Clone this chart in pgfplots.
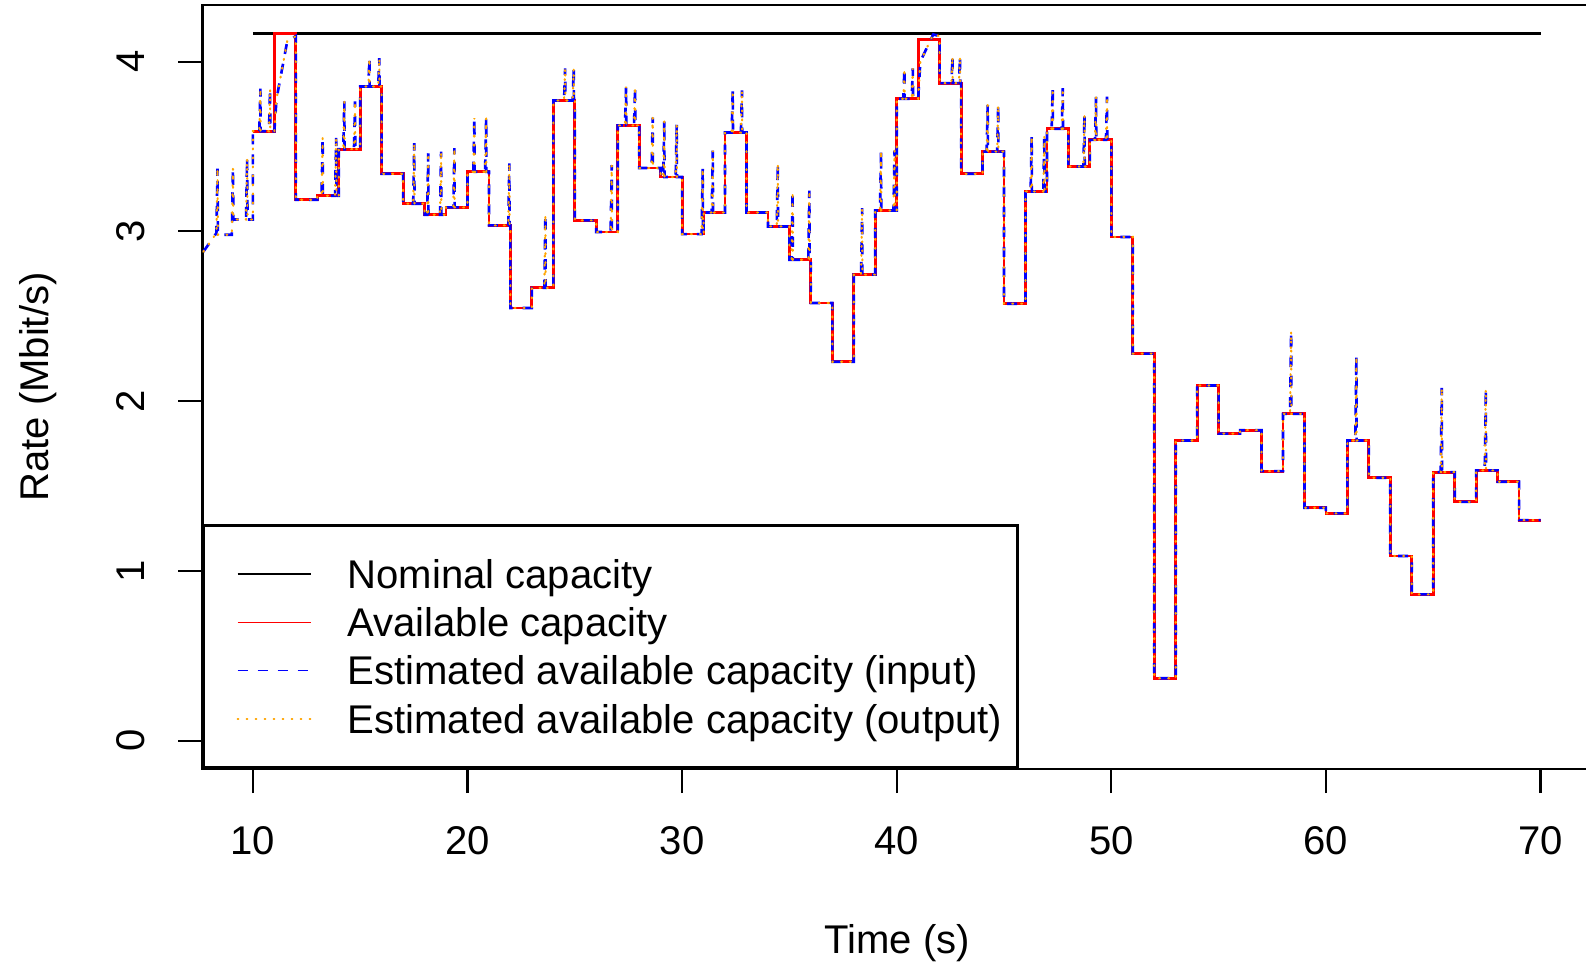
\documentclass[border=0pt]{standalone}
\usepackage{pgfplots}
\pgfplotsset{compat=1.18}
\usepackage{pgfplotstable}
\usepackage{fontspec}
\setmainfont{Liberation Sans}
\definecolor{rorange}{HTML}{FFA500}

\pgfplotstableread{
x y
10 3.59
11 4.167
12 3.186
13 3.21
14 3.484
15 3.853
16 3.339
17 3.163
18 3.098
19 3.141
20 3.351
21 3.035
22 2.549
23 2.667
24 3.771
25 3.065
26 2.996
27 3.624
28 3.373
29 3.320
30 2.984
31 3.111
32 3.582
33 3.111
34 3.029
35 2.833
36 2.578
37 2.232
38 2.745
39 3.123
40 3.781
41 4.128
42 3.873
43 3.339
44 3.470
45 2.574
46 3.235
47 3.604
48 3.382
49 3.539
50 2.967
51 2.280
52 0.368
53 1.768
54 2.092
55 1.809
56 1.829
57 1.588
58 1.925
59 1.372
60 1.339
61 1.768
62 1.549
63 1.088
64 0.862
65 1.582
66 1.407
67 1.592
68 1.525
69 1.299
70 1.299
}\availtable

\pgfplotstableread{
x y
7.69 2.88
8.08 2.95
8.30 2.99
8.35 3.37
8.37 2.98
9.02 2.98
9.07 3.37
9.09 3.07
9.68 3.07
9.73 3.43
9.75 3.07
10.0 3.07
10.0 3.59
10.30 3.59
10.35 3.84
10.36 3.59
10.75 3.59
10.80 3.84
10.81 3.59
11.0 3.59
11.1 3.78
11.6 4.12
12.0 4.15
12.0 3.186
13.0 3.186
13.0 3.21
13.20 3.21
13.25 3.55
13.26 3.21
13.83 3.21
13.88 3.55
13.89 3.21
14.0 3.21
14.0 3.484
14.21 3.484
14.26 3.765
14.27 3.484
14.71 3.484
14.76 3.765
14.77 3.484
15.0 3.484
15.0 3.853
15.38 3.853
15.43 4.02
15.44 3.853
15.84 3.853
15.89 4.02
15.90 3.853
16.0 3.853
16.0 3.339
17.0 3.339
17.0 3.163
17.47 3.163
17.52 3.52
17.53 3.163
18.0 3.163
18.0 3.098
18.12 3.098
18.17 3.46
18.18 3.098
18.72 3.098
18.77 3.47
18.78 3.098
19.0 3.098
19.0 3.141
19.34 3.141
19.39 3.49
19.40 3.141
20.0 3.141
20.0 3.351
20.27 3.351
20.32 3.667
20.33 3.351
20.82 3.351
20.87 3.667
20.88 3.351
21.0 3.351
21.0 3.035
21.9 3.035
21.95 3.40
21.96 3.035
22.0 3.035
22.0 2.549
23.0 2.549
23.0 2.667
23.58 2.667
23.63 3.10
23.64 2.667
24.0 2.667
24.0 3.771
24.5 3.771
24.55 3.96
24.56 3.771
24.9 3.771
24.95 3.96
24.96 3.771
25.0 3.771
25.0 3.065
26.0 3.065
26.0 2.996
26.67 2.996
26.72 3.39
26.73 2.996
27.0 2.996
27.0 3.624
27.34 3.624
27.39 3.853
27.40 3.624
27.76 3.624
27.81 3.853
27.82 3.624
28.0 3.624
28.0 3.373
28.58 3.373
28.63 3.67
28.64 3.373
29.0 3.373
29.0 3.320
29.12 3.32
29.17 3.65
29.18 3.32
29.7 3.32
29.75 3.63
29.76 3.32
30.0 3.32
30.0 2.984
30.91 2.984
30.96 3.37
30.97 2.984
31.0 2.984
31.0 3.111
31.38 3.111
31.43 3.476
31.44 3.111
32.0 3.111
32.0 3.582
32.31 3.582
32.36 3.83
32.37 3.582
32.74 3.582
32.79 3.83
32.80 3.582
33.0 3.582
33.0 3.111
34.0 3.111
34.0 3.029
34.41 3.029
34.46 3.40
34.47 3.029
35.0 3.029
35.0 2.833
35.1 2.833
35.15 3.235
35.16 2.833
35.88 2.833
35.93 3.24
35.94 2.833
36.0 2.833
36.0 2.578
37.0 2.578
37.0 2.232
38.0 2.232
38.0 2.745
38.34 2.745
38.39 3.137
38.40 2.745
39.0 2.745
39.0 3.123
39.22 3.123
39.27 3.476
39.28 3.123
39.85 3.123
39.9 3.476
39.91 3.123
40.0 3.123
40.0 3.781
40.31 3.781
40.36 3.96
40.37 3.781
40.7 3.781
40.75 3.96
40.76 3.781
41.0 3.781
41.1 4.0
41.7 4.16
42.0 4.15
42.0 3.873
42.55 3.873
42.6 4.03
42.61 3.873
42.9 3.873
42.95 4.03
42.96 3.873
43.0 3.873
43.0 3.339
44.0 3.339
44.0 3.470
44.19 3.47
44.24 3.745
44.25 3.47
44.68 3.47
44.73 3.745
44.74 3.47
45.0 3.47
45.0 2.574
46.0 2.574
46.0 3.235
46.24 3.235
46.29 3.56
46.30 3.235
46.83 3.235
46.88 3.56
46.89 3.235
47.0 3.235
47.0 3.604
47.22 3.604
47.27 3.843
47.28 3.604
47.69 3.604
47.74 3.843
47.75 3.604
48.0 3.604
48.0 3.382
48.7 3.382
48.75 3.686
48.76 3.382
49.0 3.382
49.0 3.539
49.24 3.539
49.29 3.794
49.30 3.539
49.75 3.539
49.8 3.794
49.81 3.539
50.0 3.539
50.0 2.967
51.0 2.967
51.0 2.280
52.0 2.280
52.0 0.368
53.0 0.368
53.0 1.768
54.0 1.768
54.0 2.092
55.0 2.092
55.0 1.809
56.0 1.809
56.0 1.829
57.0 1.829
57.0 1.588
58.0 1.588
58.0 1.925
58.33 1.925
58.38 2.411
58.39 1.925
59.0 1.925
59.0 1.372
60.0 1.372
60.0 1.339
61.0 1.339
61.0 1.768
61.37 1.768
61.42 2.264
61.43 1.768
62.0 1.768
62.0 1.549
63.0 1.549
63.0 1.088
64.0 1.088
64.0 0.862
65.0 0.862
65.0 1.582
65.35 1.582
65.4 2.078
65.41 1.582
66.0 1.582
66.0 1.407
67.0 1.407
67.0 1.592
67.4 1.592
67.45 2.07
67.46 1.592
68.0 1.592
68.0 1.525
69.0 1.525
69.0 1.299
70.0 1.299
}\esttable

\begin{document}
\fontsize{11.4}{13.7}\selectfont
\begin{tikzpicture}
\begin{axis}[
  scale only axis,
  width=138.95mm, height=76.4mm,
  xmin=7.642, xmax=72.39, ymin=-0.1667, ymax=4.3333,
  xtick={10,20,30,40,50,60,70}, ytick={0,1,2,3,4},
  xtick pos=bottom, ytick pos=left, tick align=outside,
  major tick length=2.4mm,
  minor tick num=0,
  tick style={line width=0.6pt, black},
  axis line style={line width=0.8pt},
  /pgf/number format/assume math mode=true,
  xticklabel style={anchor=center, yshift=-4.73mm},
  yticklabel style={xshift=-4.78mm, rotate=90, anchor=center},
  xlabel={Time (s)}, ylabel={Rate (Mbit/s)},
  every axis x label/.style={at={(rel axis cs:0.5,0)}, yshift=-17.4mm, anchor=center},
  every axis y label/.style={at={(rel axis cs:0,0.5)}, xshift=-16.4mm, rotate=90, anchor=center},
  legend cell align=left,
  legend image code/.code={\path (0mm,0mm); \draw[#1, line width=0.45pt] (1.74mm,0mm) -- (9.12mm,0mm);},
  legend style={at={(rel axis cs:0,0)}, anchor=south west, draw=black, line width=0.8pt,
    inner xsep=1.5mm, inner ysep=2.75mm, row sep=0.57mm, column sep=3.55mm,
    nodes={inner sep=0pt, text height=3.55mm, text depth=0.7mm}},
]
\addplot[black, line width=0.8pt] coordinates {(10,4.1667) (70,4.1667)};
\addlegendentry{Nominal capacity}
\addplot[red, line width=0.8pt, const plot mark left] table[x=x,y=y] {\availtable};
\addlegendentry{Available capacity}
\addplot[blue, line width=0.75pt, dash pattern=on 1mm off 1mm] table[x=x,y=y] {\esttable};
\addlegendentry{Estimated available capacity (input)}
\addplot[rorange, line width=0.6pt, line cap=round, dash pattern=on 0.1mm off 0.8mm] table[x=x,y=y] {\esttable};
\addlegendentry{Estimated available capacity (output)}
\end{axis}
\pgfresetboundingbox
\useasboundingbox (-20.23mm,-19.2mm) rectangle (138.37mm,76.9mm);
\end{tikzpicture}
\end{document}
